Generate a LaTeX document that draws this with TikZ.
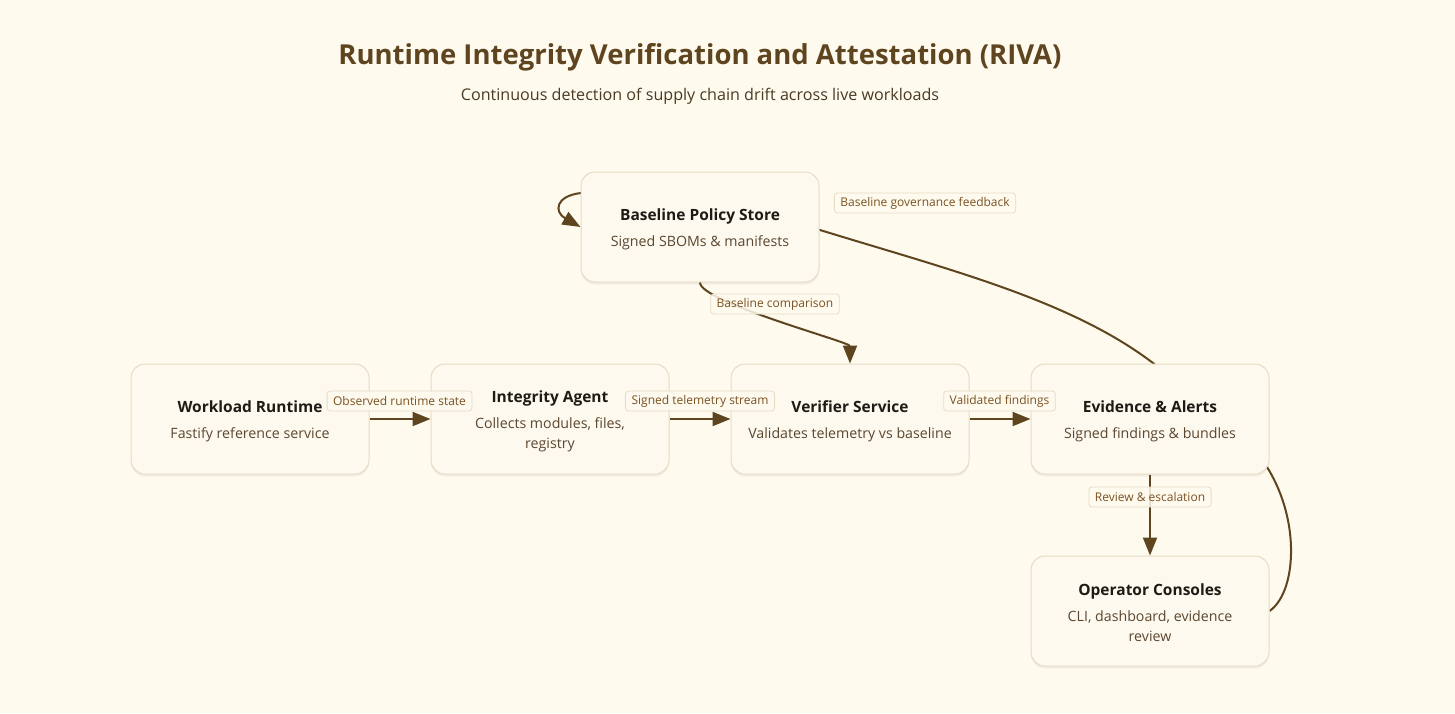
\documentclass[tikz,border=0pt]{standalone}
\usepackage{fontspec}
\setmainfont{Open Sans}
\usetikzlibrary{arrows.meta,shadows}
\definecolor{bgc}{HTML}{FEFAEE}
\definecolor{boxfill}{HTML}{FDF9EE}
\definecolor{boxline}{HTML}{E6DCC6}
\definecolor{edgec}{HTML}{5E4520}
\definecolor{titlec}{HTML}{5E4520}
\definecolor{subtc}{HTML}{4A3A22}
\definecolor{ntitle}{HTML}{1E1B16}
\definecolor{nsub}{HTML}{5B4730}
\definecolor{labc}{HTML}{7A5222}
\pgfdeclarelayer{bgfill}
\pgfdeclarelayer{behind}
\pgfsetlayers{bgfill,behind,main}
\newcommand{\nt}[1]{\rule{0pt}{16pt}{\fontsize{15.5}{20}\selectfont\bfseries\color{ntitle}#1}}
\newcommand{\ns}[1]{{\color{nsub}#1}}
\begin{document}
\begin{tikzpicture}[x=1pt,y=-1pt,
  box/.style={rounded corners=14pt, draw=boxline, fill=boxfill, line width=1pt,
    minimum width=238pt, minimum height=110pt, align=center, inner sep=0pt,
    font=\fontsize{14.2}{20}\selectfont,
    drop shadow={shadow xshift=0pt, shadow yshift=-2.5pt, opacity=0.05, fill=black}},
  edge/.style={draw=edgec, line width=2pt, -{Triangle[length=18pt,width=14pt]}},
  elabel/.style={rounded corners=3pt, draw=boxline, line width=0.8pt, fill=bgc, fill opacity=0.85, text opacity=1,
    text=labc, font=\fontsize{12}{14}\selectfont, inner xsep=6pt, inner ysep=0pt, minimum height=20pt}
]
\begin{pgfonlayer}{bgfill}
\fill[bgc] (0,0) rectangle (1455,713);
\end{pgfonlayer}
\useasboundingbox (0,0) rectangle (1455,713);

\node[font=\fontsize{27.5}{32}\selectfont\bfseries, text=titlec] (title) at (700,57) {Runtime Integrity Verification and Attestation (RIVA)};
\node[font=\fontsize{16.1}{18}\selectfont, text=subtc] (subtitle) at (700,96) {Continuous detection of supply chain drift across live workloads};

\node[box] (base) at (700,227) {\nt{Baseline Policy Store}\\[6pt]\ns{Signed SBOMs \& manifests}};
\node[box] (work) at (250,419) {\nt{Workload Runtime}\\[6pt]\ns{Fastify reference service}};
\node[box] (agent) at (550,419) {\nt{Integrity Agent}\\[6pt]\ns{Collects modules, files,}\\\ns{registry}};
\node[box] (veri) at (850,419) {\nt{Verifier Service}\\[6pt]\ns{Validates telemetry vs baseline}};
\node[box] (evid) at (1150,419) {\nt{Evidence \& Alerts}\\[6pt]\ns{Signed findings \& bundles}};
\node[box] (ops) at (1150,611) {\nt{Operator Consoles}\\[6pt]\ns{CLI, dashboard, evidence}\\\ns{review}};

\begin{pgfonlayer}{behind}
\draw[edge] (ops.east) .. controls (1300,590) and (1302,500) .. (1250,445)
  .. controls (1200,410) and (1180,385) .. (1153,363)
  .. controls (1070,300) and (950,270) .. (820,230)
  .. controls (720,205) and (620,190) .. (581,193)
  .. controls (555,196) and (554,212) .. (base.west);
\end{pgfonlayer}

\draw[edge] (work.east) -- (agent.west);
\draw[edge] (agent.east) -- (veri.west);
\draw[edge] (veri.east) -- (evid.west);
\draw[edge] (evid.south) -- (ops.north);
\draw[edge] (base.south) .. controls (700,302) and (850,342) .. (veri.north);

\node[elabel] (l1) at (399.5,401) {Observed runtime state};
\node[elabel] (l2) at (700,401) {Signed telemetry stream};
\node[elabel] (l3) at (999.5,401) {Validated findings};
\node[elabel] (l4) at (1150,497) {Review \& escalation};
\node[elabel] (l5) at (775,304) {Baseline comparison};
\node[elabel] (l6) at (925,203) {Baseline governance feedback};
\end{tikzpicture}
\end{document}
